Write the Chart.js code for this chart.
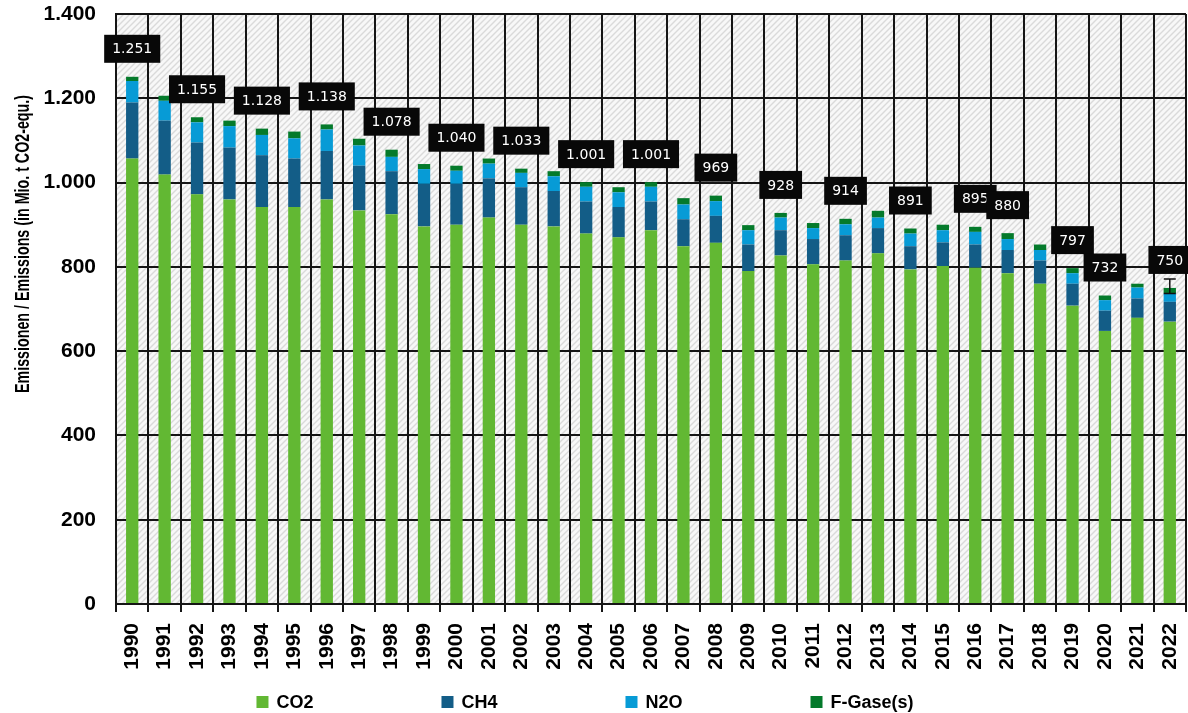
<!DOCTYPE html>
<html>
<head>
<meta charset="utf-8">
<script src="https://cdn.jsdelivr.net/npm/chart.js@4.4.1/dist/chart.umd.min.js"></script>
<style>
  body { margin: 0; background: #fff; }
  canvas { display: block; }
</style>
</head>
<body>
<canvas id="EmissionChart" width="1188" height="713"></canvas>
<script>
var years = ['1990','1991','1992','1993','1994','1995','1996','1997','1998','1999',
  '2000','2001','2002','2003','2004','2005','2006','2007','2008','2009',
  '2010','2011','2012','2013','2014','2015','2016','2017','2018','2019',
  '2020','2021','2022'];

var co2 = [1057,1019,972,960,942,942,960,934,925,896,
  900,917,900,896,879,870,887,849,857,790,
  827,806,815,832,794,802,798,785,760,708,
  648,679,670];
var ch4 = [133,128,123,123,123,115,115,106,102,101,
  97,93,89,84,76,72,68,64,64,63,
  60,60,60,60,55,56,55,55,55,52,
  48,46,47];
var n2o = [51,47,48,51,48,48,51,48,34,35,
  31,35,34,35,35,35,35,35,35,34,
  30,26,26,25,30,29,30,26,25,25,
  25,26,20];
var fgas = [10,12,12,13,15,16,12,16,17,12,
  12,12,10,12,11,12,11,15,13,12,
  11,12,13,16,12,13,12,14,13,12,
  11,9,13];

// printed totals (only on some years)
var totalLabels = ['1.251',null,'1.155',null,'1.128',null,'1.138',null,'1.078',null,
  '1.040',null,'1.033',null,'1.001',null,'1.001',null,'969',null,
  '928',null,'914',null,'891',null,'895','880',null,'797',
  '732',null,'750'];

var yTickLabels = ['0','200','400','600','800','1.000','1.200','1.400'];

var errorYear = '2022';
var errorRange = [737, 771];

var series = ['CO2', 'CH4', 'N2O', 'F-Gase(s)'];
var colors = ['#62b833', '#135d87', '#079bd6', '#047a2b'];

// hatched plot background
var hatch = document.createElement('canvas');
hatch.width = 6; hatch.height = 6;
var hctx = hatch.getContext('2d');
hctx.fillStyle = '#f8f8f8';
hctx.fillRect(0, 0, 6, 6);
hctx.strokeStyle = '#dadada';
hctx.lineWidth = 1.4;
hctx.beginPath();
hctx.moveTo(0, 6); hctx.lineTo(6, 0);
hctx.moveTo(-1, 1); hctx.lineTo(1, -1);
hctx.moveTo(5, 7); hctx.lineTo(7, 5);
hctx.stroke();

var hatchPlugin = {
  id: 'hatch',
  beforeDraw: function (chart) {
    var a = chart.chartArea, ctx = chart.ctx;
    ctx.save();
    ctx.fillStyle = ctx.createPattern(hatch, 'repeat');
    ctx.fillRect(a.left, a.top, a.right - a.left, a.bottom - a.top);
    ctx.restore();
  }
};

var labelPlugin = {
  id: 'totals',
  afterDatasetsDraw: function (chart) {
    var ctx = chart.ctx;
    var meta = chart.getDatasetMeta(3);
    ctx.save();
    ctx.font = '14px "DejaVu Sans"';
    ctx.textAlign = 'center';
    ctx.textBaseline = 'middle';
    totalLabels.forEach(function (txt, i) {
      if (!txt) return;
      var bar = meta.data[i];
      var w = ctx.measureText(txt).width + 16;
      var h = 28;
      var top = bar.y - 14 - h;
      ctx.fillStyle = '#080808';
      ctx.fillRect(bar.x - w / 2, top, w, h);
      ctx.fillStyle = '#fff';
      ctx.fillText(txt, bar.x, top + h / 2 + 1);
    });

    // error bar on the last year
    var xs = chart.scales.x, ys = chart.scales.y;
    var ex = xs.getPixelForValue(years.indexOf(errorYear));
    var y1 = ys.getPixelForValue(errorRange[0]);
    var y2 = ys.getPixelForValue(errorRange[1]);
    ctx.strokeStyle = '#111';
    ctx.lineWidth = 1.5;
    ctx.beginPath();
    ctx.moveTo(ex, y1); ctx.lineTo(ex, y2);
    ctx.moveTo(ex - 6, y1); ctx.lineTo(ex + 6, y1);
    ctx.moveTo(ex - 6, y2); ctx.lineTo(ex + 6, y2);
    ctx.stroke();
    ctx.restore();
  }
};

var extrasPlugin = {
  id: 'extras',
  afterDraw: function (chart) {
    var ctx = chart.ctx;
    ctx.save();
    // y axis title, condensed
    var title = 'Emissionen / Emissions (in Mio. t CO2-equ.)';
    ctx.font = 'bold 21px "Liberation Sans"';
    var tw = ctx.measureText(title).width;
    ctx.translate(23, 244);
    ctx.rotate(-Math.PI / 2);
    ctx.scale(298 / tw, 1);
    ctx.fillStyle = '#000';
    ctx.textAlign = 'center';
    ctx.textBaseline = 'middle';
    ctx.fillText(title, 0, 0);
    ctx.restore();

    // legend
    ctx.save();
    ctx.font = 'bold 18px "Liberation Sans"';
    ctx.textBaseline = 'middle';
    var gap = 128, box = 12;
    var widths = chart.data.datasets.map(function (d) { return ctx.measureText(d.label).width; });
    var total = widths.reduce(function (s, w) { return s + box + 8 + w; }, 0) + gap * (widths.length - 1);
    var x = 585 - total / 2, yc = 702;
    chart.data.datasets.forEach(function (d, i) {
      ctx.fillStyle = d.backgroundColor;
      ctx.fillRect(x, yc - box / 2, box, box);
      ctx.fillStyle = '#000';
      ctx.fillText(d.label, x + box + 8, yc + 1);
      x += box + 8 + widths[i] + gap;
    });
    ctx.restore();
  }
};

var tickFont = { family: 'Liberation Sans', weight: 'bold', size: 21 };
var lineColor = '#151515';

var ctx = document.getElementById('EmissionChart').getContext('2d');
var EmissionChart = new Chart(ctx, {
  type: 'bar',
  data: {
    labels: years,
    datasets: [co2, ch4, n2o, fgas].map(function (vals, i) {
      return {
        label: series[i],
        data: vals,
        backgroundColor: colors[i],
        borderWidth: 0,
        categoryPercentage: 1,
        barPercentage: 0.38
      };
    })
  },
  options: {
    responsive: false,
    animation: false,
    layout: { padding: { left: 0, right: 2, top: 14, bottom: 40 } },
    plugins: {
      legend: { display: false },
      tooltip: { enabled: false }
    },
    scales: {
      x: {
        stacked: true,
        offset: true,
        grid: { offset: true, color: lineColor, lineWidth: 2, tickLength: 8, tickColor: lineColor },
        border: { color: lineColor, width: 2 },
        ticks: { autoSkip: false, minRotation: 90, maxRotation: 90, padding: 11, color: '#000', font: tickFont },
        afterFit: function (scale) {
          scale.height = 69;
          scale.paddingLeft = 0;
          scale.paddingRight = 0;
        }
      },
      y: {
        stacked: true,
        min: 0,
        max: 1400,
        grid: { color: lineColor, lineWidth: 2, drawTicks: false },
        border: { color: lineColor, width: 2 },
        ticks: {
          stepSize: 200,
          padding: 20,
          color: '#000',
          font: tickFont,
          callback: function (v, i) { return yTickLabels[i]; }
        },
        afterFit: function (scale) {
          scale.width = 116;
          scale.paddingTop = 0;
          scale.paddingBottom = 0;
        }
      }
    }
  },
  plugins: [hatchPlugin, labelPlugin, extrasPlugin]
});
</script>
</body>
</html>
